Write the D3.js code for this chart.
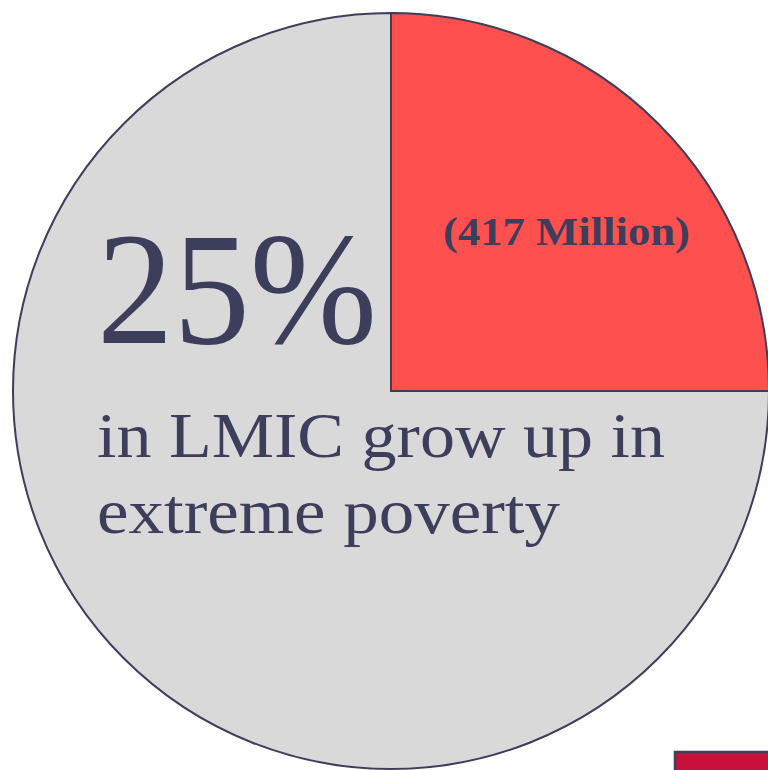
<!DOCTYPE html>
<html>
<head>
<meta charset="utf-8">
<script src="https://cdn.jsdelivr.net/npm/d3@7"></script>
<style>
  html, body { margin: 0; padding: 0; background: #fff; overflow: hidden; }
  svg { display: block; }
</style>
</head>
<body>
<div id="chart"></div>
<script>
  // share of children in LMIC growing up in extreme poverty
  var categories = ['extreme poverty', 'other']
  var shares = [25, 75]
  var colors = ['#ff5050', '#d9d9d9']
  var bigLabel = '25%'
  var countLabel = '(417 Million)'
  var captionLines = ['in LMIC grow up in', 'extreme poverty']

  var w = 768, h = 770
  var cx = 391, cy = 391, r = 378
  var ink = '#3d3d5c'

  var svg = d3.select('#chart')
              .append('svg')
              .attr('width', w)
              .attr('height', h)

  var pie = d3.pie().sort(null).value(function(d){ return d })
  var arc = d3.arc().innerRadius(0).outerRadius(r)

  var g = svg.append('g').attr('transform', 'translate(' + cx + ',' + cy + ')')

  g.selectAll('path')
    .data(pie(shares))
    .enter()
    .append('path')
    .attr('d', arc)
    .attr('fill', function(d, i){ return colors[i] })
    .attr('stroke', ink)
    .attr('stroke-width', 2)

  // small marker bottom right
  svg.append('rect')
    .attr('x', 675)
    .attr('y', 752)
    .attr('width', 100)
    .attr('height', 30)
    .attr('fill', '#c8103a')
    .attr('stroke', ink)
    .attr('stroke-width', 2.5)

  var font = '"Liberation Serif", "DejaVu Serif", serif'

  svg.append('text')
    .attr('x', 97)
    .attr('y', 343)
    .attr('font-family', font)
    .attr('font-size', 160)
    .attr('fill', ink)
    .attr('textLength', 280)
    .attr('lengthAdjust', 'spacingAndGlyphs')
    .text(bigLabel)

  svg.selectAll('text.caption')
    .data(captionLines)
    .enter()
    .append('text')
    .attr('class', 'caption')
    .attr('x', 97)
    .attr('y', function(d, i){ return 457 + i * 76 })
    .attr('font-family', font)
    .attr('font-size', 64)
    .attr('fill', ink)
    .attr('textLength', function(d, i){ return i == 0 ? 568 : 463 })
    .attr('lengthAdjust', 'spacingAndGlyphs')
    .text(function(d){ return d })

  svg.append('text')
    .attr('x', 443)
    .attr('y', 245)
    .attr('font-family', font)
    .attr('font-weight', 'bold')
    .attr('font-size', 40)
    .attr('fill', ink)
    .attr('textLength', 247)
    .attr('lengthAdjust', 'spacingAndGlyphs')
    .text(countLabel)
</script>
</body>
</html>
